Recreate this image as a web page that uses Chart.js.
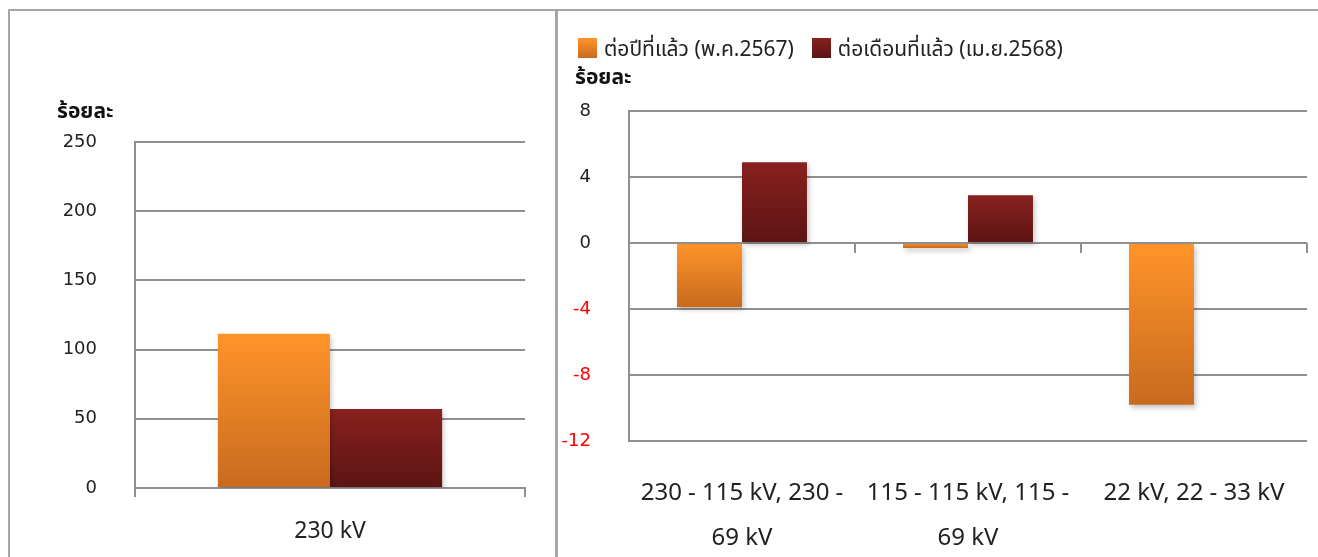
<!DOCTYPE html>
<html>
<head>
<meta charset="utf-8">
<script src="https://cdn.jsdelivr.net/npm/chart.js@4.4.1/dist/chart.umd.min.js"></script>
<style>
  body { margin: 0; background: #fff; width: 1318px; height: 557px; overflow: hidden; position: relative;
         font-family: 'Noto Sans', 'Noto Sans Thai', Tahoma, sans-serif; }
  .frame { position: absolute; left: 8px; top: 9px; width: 1330px; height: 560px;
           border-top: 2px solid #a6a6a6; border-left: 2px solid #a6a6a6; }
  .divider { position: absolute; left: 555px; top: 9px; width: 3px; height: 560px; background: #a6a6a6; }
  #leftChart { position: absolute; left: 10px; top: 11px; }
  #rightChart { position: absolute; left: 558px; top: 11px; }
  #legend { position: absolute; left: 578px; top: 37px; display: flex; align-items: center;
            font-size: 21px; color: #222; line-height: 22px; }
  #legend .item { display: flex; align-items: center; margin-right: 18px; }
  #legend .box { width: 19px; height: 20px; margin-right: 7px; }
</style>
</head>
<body>
<div class="frame"></div>
<div class="divider"></div>
<canvas id="leftChart" width="545" height="546"></canvas>
<canvas id="rightChart" width="760" height="546"></canvas>
<div id="legend"></div>
<script>
// data
const seriesNames = ['ต่อปีที่แล้ว (พ.ค.2567)', 'ต่อเดือนที่แล้ว (เม.ย.2568)'];

const leftCategories = ['230 kV'];
const leftYear = [111.5];
const leftMonth = [57];
const leftTicks = [0, 50, 100, 150, 200, 250];

const rightCategories = [['230 - 115 kV, 230 -', '69 kV'], ['115 - 115 kV, 115 -', '69 kV'], '22 kV, 22 - 33 kV'];
const rightYear = [-3.9, -0.3, -9.8];
const rightMonth = [4.9, 2.9, 0];
const rightTicks = [-12, -8, -4, 0, 4, 8];

const unitLabel = 'ร้อยละ';
const orange = ['#ff9429', '#c86a1f'];
const maroon = ['#88211f', '#5c1414'];

const fontFamily = "'Noto Sans', 'Noto Sans Thai', Tahoma, sans-serif";
Chart.defaults.font.family = fontFamily;
Chart.defaults.color = '#222';

const gridColor = '#8f8f8f';

// vertical gradient on each bar, light at the zero end
function barFill(colors) {
  return (ctx) => {
    const chart = ctx.chart;
    if (!chart.chartArea || ctx.type !== 'data') return colors[0];
    const y = chart.scales.y;
    const v = ctx.parsed.y;
    const top = y.getPixelForValue(Math.max(v, 0));
    const bottom = y.getPixelForValue(Math.min(v, 0));
    if (bottom - top < 1) return colors[0];
    const g = chart.ctx.createLinearGradient(0, top, 0, bottom);
    g.addColorStop(0, colors[0]);
    g.addColorStop(1, colors[1]);
    return g;
  };
}

const barShadow = {
  id: 'barShadow',
  beforeDatasetsDraw(chart) {
    const c = chart.ctx;
    c.save();
    c.shadowColor = 'rgba(0,0,0,0.22)';
    c.shadowBlur = 5;
    c.shadowOffsetX = 2;
    c.shadowOffsetY = 3;
  },
  afterDatasetsDraw(chart) {
    chart.ctx.restore();
  }
};

// small tick marks on the zero line between categories
const zeroTicks = {
  id: 'zeroTicks',
  afterDatasetsDraw(chart) {
    const x = chart.scales.x, y = chart.scales.y;
    const y0 = y.getPixelForValue(0);
    const c = chart.ctx;
    c.save();
    c.strokeStyle = gridColor;
    c.lineWidth = 2;
    c.beginPath();
    for (let i = 0; i <= chart.data.labels.length; i++) {
      const px = x.getPixelForValue(i - 0.5);
      c.moveTo(px, y0);
      c.lineTo(px, y0 + 10);
    }
    c.stroke();
    c.restore();
  }
};

// horizontal unit caption above the y axis
const caption = {
  id: 'caption',
  afterDraw(chart, args, opts) {
    const c = chart.ctx;
    c.save();
    c.font = `bold 21px ${fontFamily}`;
    c.fillStyle = '#111';
    c.textBaseline = 'middle';
    c.fillText(opts.text, opts.x, opts.y);
    c.restore();
  }
};

function makeDatasets(year, month) {
  return [
    { label: seriesNames[0], data: year, backgroundColor: barFill(orange),
      categoryPercentage: 0.575, barPercentage: 1 },
    { label: seriesNames[1], data: month, backgroundColor: barFill(maroon),
      categoryPercentage: 0.575, barPercentage: 1 }
  ];
}

new Chart(document.getElementById('leftChart'), {
  type: 'bar',
  data: { labels: leftCategories, datasets: makeDatasets(leftYear, leftMonth) },
  plugins: [barShadow, caption],
  options: {
    responsive: false,
    animation: false,
    layout: { padding: { left: 0, top: 131, right: 30, bottom: 0 } },
    plugins: {
      legend: { display: false },
      tooltip: { enabled: false },
      caption: { text: unitLabel, x: 47, y: 101 }
    },
    scales: {
      x: {
        grid: { display: true, drawOnChartArea: false, offset: true, tickLength: 9, color: gridColor, lineWidth: 2 },
        border: { display: true, color: gridColor, width: 2 },
        ticks: { padding: 21, font: { size: 23 }, color: '#222' },
        afterFit(s) { s.height = 69; }
      },
      y: {
        min: leftTicks[0], max: leftTicks[leftTicks.length - 1],
        grid: { color: gridColor, lineWidth: 2, drawTicks: false },
        border: { display: true, color: gridColor, width: 2 },
        ticks: { stepSize: leftTicks[1] - leftTicks[0], padding: 38,
                 font: { family: 'DejaVu Sans', size: 18 }, color: '#222' },
        afterFit(s) { s.width = 125; }
      }
    }
  }
});

new Chart(document.getElementById('rightChart'), {
  type: 'bar',
  data: { labels: rightCategories, datasets: makeDatasets(rightYear, rightMonth) },
  plugins: [barShadow, zeroTicks, caption],
  options: {
    responsive: false,
    animation: false,
    layout: { padding: { left: 0, top: 100, right: 11, bottom: 0 } },
    plugins: {
      legend: { display: false },
      tooltip: { enabled: false },
      caption: { text: unitLabel, x: 17, y: 67 }
    },
    scales: {
      x: {
        grid: { display: false },
        border: { display: false },
        ticks: { padding: 21, autoSkip: false, maxRotation: 0,
                 font: { size: 24, lineHeight: 1.9 }, color: '#222' },
        afterFit(s) { s.height = 116; }
      },
      y: {
        min: rightTicks[0], max: rightTicks[rightTicks.length - 1],
        grid: { color: gridColor, lineWidth: 2, drawTicks: false },
        border: { display: true, color: gridColor, width: 2 },
        ticks: { stepSize: rightTicks[1] - rightTicks[0], padding: 38,
                 font: { family: 'DejaVu Sans', size: 18 },
                 color: (ctx) => ctx.tick.value < 0 ? '#ff0000' : '#222' },
        afterFit(s) { s.width = 71; }
      }
    }
  }
});

// legend for the right chart, built from the series names
const legendEl = document.getElementById('legend');
[orange, maroon].forEach((cols, i) => {
  const item = document.createElement('div');
  item.className = 'item';
  const box = document.createElement('span');
  box.className = 'box';
  box.style.background = `linear-gradient(${cols[0]}, ${cols[1]})`;
  const txt = document.createElement('span');
  txt.textContent = seriesNames[i];
  item.appendChild(box);
  item.appendChild(txt);
  legendEl.appendChild(item);
});
</script>
</body>
</html>
